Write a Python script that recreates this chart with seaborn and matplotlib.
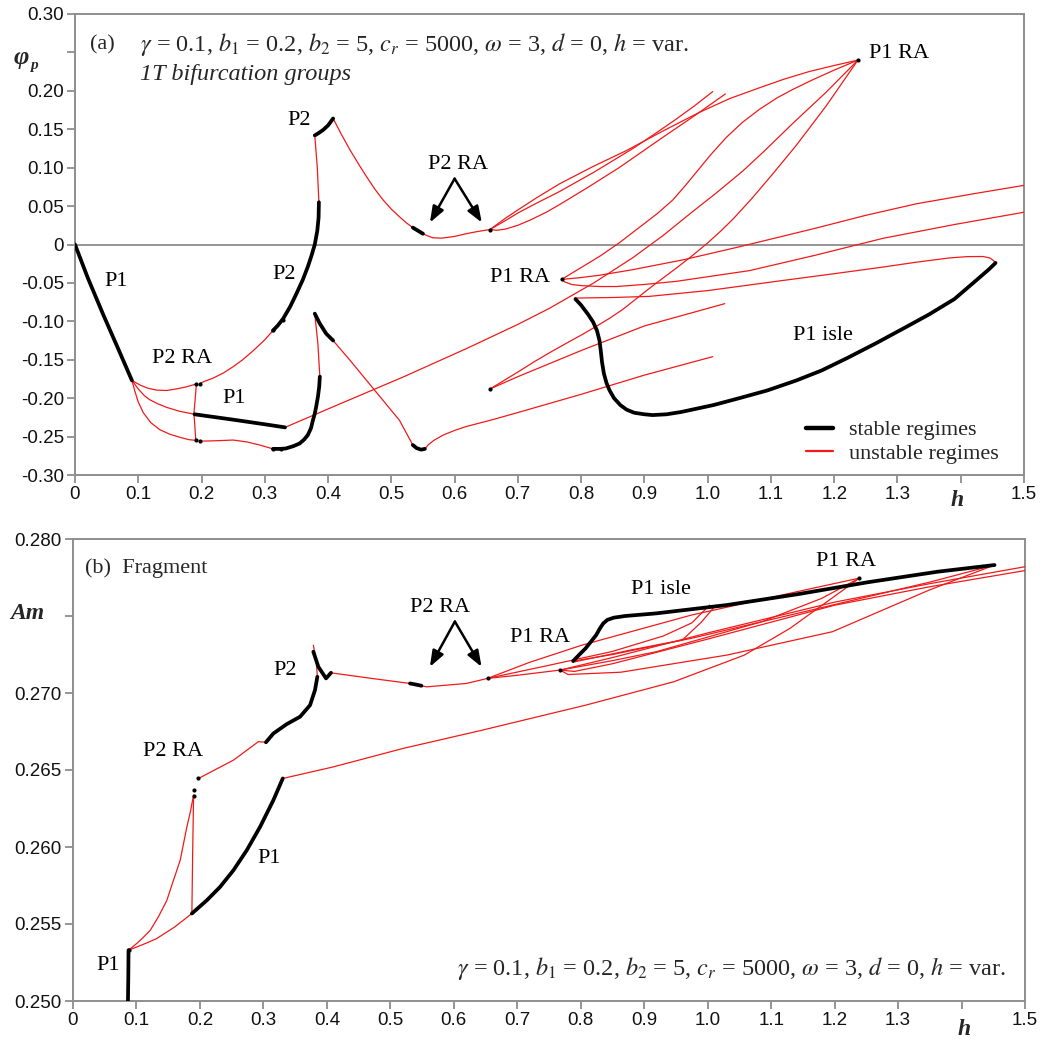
import numpy as np
import pandas as pd
import matplotlib
matplotlib.use("Agg")
import matplotlib.pyplot as plt
import seaborn as sns
from matplotlib.lines import Line2D

# ---------------- data ----------------
h_ticks = [0.0, 0.1, 0.2, 0.3, 0.4, 0.5, 0.6, 0.7, 0.8, 0.9, 1.0, 1.1, 1.2, 1.3, 1.4, 1.5]
h_tick_labels = ['0', '0.1', '0.2', '0.3', '0.4', '0.5', '0.6', '0.7', '0.8', '0.9',
                 '1.0', '1.1', '1.2', '1.3', '', '1.5']
a_y_ticks = [0.30, 0.25, 0.20, 0.15, 0.10, 0.05, 0.0, -0.05, -0.10, -0.15, -0.20, -0.25, -0.30]
a_y_labels = ['0.30', '', '0.20', '0.15', '0.10', '0.05', '0', '-0.05', '-0.10', '-0.15',
              '-0.20', '-0.25', '-0.30']
b_y_ticks = [0.280, 0.275, 0.270, 0.265, 0.260, 0.255, 0.250]
b_y_labels = ['0.280', '', '0.270', '0.265', '0.260', '0.255', '0.250']

# panel (a): (h, phi_p) pairs, stable branches
a_p1 = [(0.0, 0.0), (0.02, -0.043), (0.045, -0.092), (0.07, -0.139), (0.09, -0.177)]
a_p1_mid = [(0.189, -0.221), (0.25, -0.228), (0.30, -0.234), (0.332, -0.238)]
a_u = [(0.313, -0.266), (0.324, -0.266), (0.333, -0.2655), (0.345, -0.2625), (0.355, -0.259),
       (0.362, -0.254), (0.368, -0.248), (0.373, -0.239), (0.376, -0.229), (0.379, -0.220),
       (0.381, -0.212), (0.384, -0.198), (0.386, -0.185), (0.387, -0.172)]
a_p2_low = [(0.313, -0.112), (0.321, -0.105), (0.329, -0.0965), (0.34, -0.081), (0.35, -0.064),
            (0.36, -0.046), (0.368, -0.029), (0.374, -0.014), (0.379, 0.0), (0.383, 0.018),
            (0.385, 0.035), (0.3855, 0.055)]
a_p2_top = [(0.379, 0.142), (0.385, 0.145), (0.392, 0.149), (0.400, 0.155), (0.408, 0.164)]
a_p2ra = [(0.534, 0.022), (0.542, 0.018), (0.55, 0.014)]
a_hook = [(0.379, -0.09), (0.387, -0.103), (0.397, -0.116), (0.408, -0.125)]
a_min = [(0.534, -0.261), (0.54, -0.265), (0.547, -0.267), (0.553, -0.266)]
a_isle = [(0.791, -0.071), (0.80, -0.079), (0.811, -0.091), (0.819, -0.101), (0.825, -0.112),
          (0.829, -0.125), (0.831, -0.138), (0.833, -0.153), (0.836, -0.168), (0.840, -0.180),
          (0.845, -0.190), (0.852, -0.200), (0.862, -0.209), (0.872, -0.215), (0.884, -0.219),
          (0.90, -0.221), (0.913, -0.222), (0.935, -0.221), (0.958, -0.218), (1.009, -0.209),
          (1.05, -0.2), (1.094, -0.19), (1.14, -0.177), (1.18, -0.164), (1.22, -0.148),
          (1.265, -0.129), (1.31, -0.109), (1.35, -0.091), (1.39, -0.071), (1.424, -0.047),
          (1.445, -0.032), (1.455, -0.024)]

# panel (a): unstable branches
a_r_p2_desc = [(0.408, 0.164), (0.42, 0.145), (0.434, 0.124), (0.448, 0.105), (0.461, 0.088),
               (0.474, 0.072), (0.487, 0.058), (0.50, 0.046), (0.513, 0.036), (0.524, 0.028),
               (0.534, 0.022)]
a_r_p2ra = [(0.55, 0.014), (0.558, 0.011), (0.566, 0.0087), (0.58, 0.0083), (0.60, 0.0105),
            (0.618, 0.014), (0.637, 0.017), (0.656, 0.0195)]
a_r_p2_vert = [(0.3855, 0.055), (0.383, 0.10), (0.379, 0.142)]
a_r_p2_left = [(0.313, -0.112), (0.30, -0.124), (0.282, -0.138), (0.265, -0.15), (0.25, -0.159),
               (0.235, -0.167), (0.218, -0.174), (0.205, -0.178), (0.197, -0.181)]
a_r_ra_top = [(0.19, -0.182), (0.175, -0.1855), (0.16, -0.188), (0.145, -0.19), (0.129, -0.1895),
              (0.115, -0.187), (0.103, -0.183), (0.09, -0.177)]
a_r_mid = [(0.09, -0.177), (0.10, -0.188), (0.11, -0.197), (0.118, -0.202), (0.13, -0.207),
           (0.145, -0.212), (0.165, -0.217), (0.189, -0.221)]
a_r_low = [(0.09, -0.177), (0.095, -0.192), (0.10, -0.205), (0.108, -0.219), (0.12, -0.232),
           (0.134, -0.241), (0.15, -0.247), (0.166, -0.251), (0.18, -0.254), (0.192, -0.255)]
a_r_vert = [(0.192, -0.181), (0.188, -0.22), (0.191, -0.255)]
a_r_bottom = [(0.197, -0.256), (0.22, -0.2555), (0.25, -0.2545), (0.272, -0.257), (0.292, -0.261),
              (0.313, -0.266)]
a_r_hook_vert = [(0.387, -0.172), (0.384, -0.13), (0.379, -0.09)]
a_r_hook_desc = [(0.408, -0.125), (0.435, -0.151), (0.461, -0.177), (0.487, -0.203),
                 (0.513, -0.229), (0.534, -0.261)]
a_r_rise = [(0.553, -0.266), (0.558, -0.261), (0.567, -0.255), (0.582, -0.248), (0.60, -0.242),
            (0.618, -0.237), (0.66, -0.228), (0.703, -0.218), (0.80, -0.195), (0.90, -0.17),
            (1.008, -0.146)]
a_r_long = [(0.332, -0.238), (0.42, -0.207), (0.52, -0.172), (0.62, -0.135), (0.70, -0.104),
            (0.75, -0.083), (0.82, -0.05), (0.882, -0.017), (0.93, 0.012), (0.972, 0.04),
            (1.015, 0.068), (1.056, 0.096), (1.09, 0.122), (1.135, 0.158), (1.187, 0.198),
            (1.2375, 0.24)]
a_r_s1 = [(0.769, -0.0455), (0.80, -0.030), (0.83, -0.015), (0.86, 0.002), (0.89, 0.021),
          (0.92, 0.040), (0.945, 0.058), (0.965, 0.077), (0.985, 0.097), (1.005, 0.117),
          (1.029, 0.139), (1.055, 0.159), (1.082, 0.176), (1.11, 0.191), (1.135, 0.202),
          (1.165, 0.214), (1.2, 0.227), (1.2375, 0.240)]
a_r_s3 = [(0.656, -0.188), (0.68, -0.176), (0.70, -0.166), (0.727, -0.152), (0.754, -0.139),
          (0.78, -0.127), (0.80, -0.118), (0.825, -0.106), (0.845, -0.096), (0.865, -0.085),
          (0.885, -0.072), (0.905, -0.059), (0.924, -0.047), (0.95, -0.031), (0.972, -0.017),
          (1.0, 0.002), (1.02, 0.017), (1.04, 0.033), (1.07, 0.060), (1.103, 0.092),
          (1.14, 0.129), (1.187, 0.180), (1.2375, 0.24)]
a_r_f3 = [(0.656, 0.0195), (0.68, 0.034), (0.70, 0.045), (0.73, 0.061), (0.766, 0.079),
          (0.82, 0.102), (0.871, 0.122), (0.93, 0.148), (0.987, 0.172), (1.035, 0.19),
          (1.082, 0.204), (1.12, 0.215), (1.16, 0.225), (1.20, 0.233), (1.2375, 0.240)]
a_r_f1 = [(0.656, 0.0195), (0.68, 0.031), (0.70, 0.041), (0.73, 0.054), (0.766, 0.069),
          (0.82, 0.094), (0.882, 0.125), (0.92, 0.146), (0.95, 0.163), (0.98, 0.181),
          (1.008, 0.199)]
a_r_f2 = [(0.656, 0.0195), (0.666, 0.0185), (0.68, 0.020), (0.70, 0.025), (0.72, 0.032),
          (0.745, 0.042), (0.766, 0.052), (0.81, 0.074), (0.86, 0.1), (0.93, 0.14),
          (0.98, 0.168), (1.028, 0.196)]
a_r_r1 = [(0.769, -0.0455), (0.80, -0.043), (0.829, -0.040), (0.88, -0.033), (0.961, -0.020),
          (1.05, -0.003), (1.172, 0.0215), (1.25, 0.038), (1.33, 0.053), (1.42, 0.066),
          (1.5, 0.077)]
a_r_r2 = [(0.769, -0.0455), (0.775, -0.049), (0.785, -0.052), (0.80, -0.0535), (0.83, -0.0547),
          (0.856, -0.0547), (0.90, -0.052), (0.95, -0.048), (1.066, -0.034), (1.17, -0.014),
          (1.277, 0.008), (1.39, 0.026), (1.5, 0.042)]
a_r_isle = [(0.791, -0.0697), (0.85, -0.069), (0.908, -0.0675), (1.0, -0.06), (1.119, -0.0468),
            (1.2, -0.038), (1.277, -0.0294), (1.33, -0.023), (1.382, -0.0175), (1.41, -0.0158),
            (1.435, -0.0156), (1.446, -0.0175), (1.452, -0.021), (1.455, -0.024)]
a_r_fan = [(0.656, -0.188), (0.70, -0.172), (0.80, -0.138), (0.90, -0.106), (1.027, -0.077)]
a_dots = [(0.192, -0.181), (0.198, -0.181), (0.191, -0.255), (0.198, -0.256), (0.313, -0.266),
          (0.325, -0.266), (0.313, -0.111), (0.328, -0.098), (0.656, 0.0195), (0.656, -0.188),
          (0.769, -0.0455), (1.2375, 0.24)]

# panel (b): (h, Am) pairs, stable branches
b_p1_vert = [(0.0866, 0.250), (0.0872, 0.2518), (0.0875, 0.2533)]
b_p1 = [(0.1873, 0.25568), (0.2109, 0.25654), (0.2318, 0.25741), (0.2528, 0.25849),
        (0.2738, 0.25979), (0.2948, 0.26131), (0.3157, 0.26304), (0.3305, 0.26445)]
b_p2 = [(0.3040, 0.26680), (0.3157, 0.26737), (0.3368, 0.26798), (0.3578, 0.26846),
        (0.3735, 0.26921), (0.3813, 0.27019), (0.385, 0.27105)]
b_p2_hook = [(0.3787, 0.27268), (0.3866, 0.2717), (0.3987, 0.27095), (0.4065, 0.27131)]
b_p2ra = [(0.531, 0.27062), (0.54, 0.27055), (0.549, 0.27047)]
b_isle = [(0.788, 0.27207), (0.798, 0.2725), (0.8077, 0.2729), (0.816, 0.27333),
          (0.8243, 0.27376), (0.830, 0.27418), (0.8355, 0.27452), (0.842, 0.27475),
          (0.852, 0.27489), (0.87, 0.27500), (0.9188, 0.27517), (1.03, 0.27571),
          (1.141, 0.27641), (1.252, 0.27719), (1.363, 0.27788), (1.452, 0.27831)]

# panel (b): unstable branches
b_r1 = [(0.0875, 0.2533), (0.10, 0.2535), (0.115, 0.25375), (0.1317, 0.25405), (0.16, 0.2548),
        (0.1873, 0.25568)]
b_r2 = [(0.0875, 0.2533), (0.10, 0.25372), (0.11, 0.2541), (0.1217, 0.25459), (0.135, 0.2555),
        (0.1479, 0.25654), (0.158, 0.2578), (0.1689, 0.25914), (0.175, 0.2604), (0.1794, 0.2613),
        (0.185, 0.2623), (0.19, 0.26337)]
b_r3 = [(0.1873, 0.25568), (0.1885, 0.2595), (0.19, 0.26337)]
b_r4 = [(0.1977, 0.26445), (0.2528, 0.26564), (0.2921, 0.26684), (0.3040, 0.26680)]
b_r5 = [(0.385, 0.27105), (0.3835, 0.2720), (0.3787, 0.2731)]
b_r6 = [(0.4065, 0.27131), (0.47, 0.27095), (0.531, 0.27062)]
b_r7 = [(0.549, 0.27047), (0.557, 0.2704), (0.62, 0.27062), (0.6533, 0.27095)]
b_r8 = [(0.3305, 0.26445), (0.41, 0.2652), (0.52, 0.2664), (0.641, 0.26755), (0.8077, 0.26921),
        (0.9466, 0.27073), (1.0577, 0.27246), (1.1298, 0.2742), (1.2244, 0.27701), (1.239, 0.27746)]
b_r_f3 = [(0.6533, 0.27095), (0.72, 0.2720), (0.8022, 0.27311), (0.9743, 0.27506),
          (1.141, 0.27658), (1.239, 0.27746)]
b_r_f1 = [(0.6533, 0.27095), (0.75, 0.2718), (0.85, 0.2727), (0.93, 0.2737), (0.975, 0.27455),
          (1.003, 0.27571)]
b_r_f2 = [(0.6533, 0.27095), (0.70, 0.27115), (0.7677, 0.27149)]
b_r_s1 = [(0.7677, 0.27149), (0.85, 0.2721), (0.9188, 0.27268), (1.0855, 0.27463),
          (1.18, 0.27615), (1.239, 0.27746)]
b_r_v = [(0.791, 0.27203), (0.88, 0.2728), (0.96, 0.27344), (0.99, 0.2746), (1.013, 0.27571)]
b_r_r1 = [(0.7677, 0.27149), (0.85, 0.2723), (1.0, 0.2739), (1.2, 0.2759), (1.35, 0.2771),
          (1.5, 0.2782)]
b_r_r2 = [(0.7677, 0.27149), (0.79, 0.2714), (0.85, 0.2719), (1.0, 0.2735), (1.2, 0.2757),
          (1.35, 0.2769), (1.5, 0.27795)]
b_r_isle1 = [(0.788, 0.27207), (0.85, 0.2725), (0.9743, 0.27355), (1.1966, 0.27571),
             (1.35, 0.2772), (1.452, 0.27831)]
b_r_isle2 = [(0.7677, 0.27149), (0.78, 0.2712), (0.8632, 0.27135), (1.03, 0.27246),
             (1.1966, 0.27398), (1.35, 0.2767), (1.452, 0.27831)]
b_dots = [(0.0875, 0.2533), (0.1905, 0.2633), (0.191, 0.2637), (0.1977, 0.26445),
          (0.6533, 0.27095), (0.7677, 0.27149), (1.239, 0.27746)]

a_stable = [a_p1, a_p1_mid, a_u, a_p2_low, a_p2_top, a_p2ra, a_hook, a_min, a_isle]
a_unstable = [a_r_p2_desc, a_r_p2ra, a_r_p2_vert, a_r_p2_left, a_r_ra_top, a_r_mid, a_r_low,
              a_r_vert, a_r_bottom, a_r_hook_vert, a_r_hook_desc, a_r_rise, a_r_long, a_r_s1,
              a_r_s3, a_r_f3, a_r_f1, a_r_f2, a_r_r1, a_r_r2, a_r_isle, a_r_fan]
b_stable = [b_p1_vert, b_p1, b_p2, b_p2_hook, b_p2ra, b_isle]
b_unstable = [b_r1, b_r2, b_r3, b_r4, b_r5, b_r6, b_r7, b_r8, b_r_f3, b_r_f1, b_r_f2, b_r_s1,
              b_r_v, b_r_r1, b_r_r2, b_r_isle1, b_r_isle2]

# ---------------- style ----------------
sns.set_theme(style="white")
plt.rcParams['font.family'] = ['Liberation Sans', 'DejaVu Sans']
plt.rcParams['mathtext.fontset'] = 'stix'
RED = '#f01a1a'
GRAY = '#8e8e8e'
SERIF = ['Liberation Serif', 'DejaVu Serif']
PARAMS = r'$\gamma$ = 0.1, $b_1$ = 0.2, $b_2$ = 5, $c_r$ = 5000, $\omega$ = 3, $d$ = 0, $h$ = var.'


def draw(ax, pts, stable):
    df = pd.DataFrame(pts, columns=['h', 'v'])
    sns.lineplot(data=df, x='h', y='v', sort=False, estimator=None, ax=ax,
                 color='black' if stable else RED, lw=2.7 if stable else 0.9,
                 zorder=4 if stable else 3)


def dots(ax, pts):
    df = pd.DataFrame(pts, columns=['h', 'v'])
    sns.scatterplot(data=df, x='h', y='v', ax=ax, color='black', s=9, linewidth=0, zorder=5)


def style_axes(ax, yticks, ylabels):
    ax.set_xlim(0, 1.5)
    ax.set_xticks(h_ticks)
    ax.set_xticklabels(h_tick_labels)
    ax.set_yticks(yticks)
    ax.set_yticklabels(ylabels)
    ax.set_xlabel('')
    ax.set_ylabel('')
    for sp in ax.spines.values():
        sp.set_color(GRAY)
        sp.set_linewidth(1.4)
    ax.tick_params(bottom=True, left=True, direction='out', length=6, width=1.3,
                   color=GRAY, labelsize=13.5, labelcolor='#111111', pad=2)


fig = plt.figure(figsize=(10.43, 10.42), dpi=100)
ax1 = fig.add_axes([75 / 1043, 1 - 475 / 1042, 949 / 1043, 461 / 1042])
ax2 = fig.add_axes([73 / 1043, 1 - 1001 / 1042, 952 / 1043, 462 / 1042])

# ---------------- panel (a) ----------------
ax1.axhline(0, color=GRAY, lw=1.3, zorder=1)
for c in a_unstable:
    draw(ax1, c, False)
for c in a_stable:
    draw(ax1, c, True)
dots(ax1, a_dots)
ax1.set_ylim(-0.30, 0.30)
style_axes(ax1, a_y_ticks, a_y_labels)

tx = dict(family=SERIF, fontsize=16, color='black', ha='center', va='center')
ax1.text(0.024, 0.26, '(a)', family=SERIF, fontsize=16, ha='left', va='center')
ax1.text(0.103, 0.26, PARAMS, family=SERIF, fontsize=17.5, ha='left', va='center')
ax1.text(0.103, 0.221, '1T bifurcation groups', family=SERIF, fontsize=17.5, style='italic',
         ha='left', va='center')
ax1.text(0.354, 0.162, 'P2', **tx)
ax1.text(0.605, 0.104, 'P2 RA', **tx)
ax1.text(1.303, 0.249, 'P1 RA', **tx)
ax1.text(0.065, -0.048, 'P1', **tx)
ax1.text(0.330, -0.039, 'P2', **tx)
ax1.text(0.169, -0.149, 'P2 RA', **tx)
ax1.text(0.251, -0.201, 'P1', **tx)
ax1.text(0.703, -0.0435, 'P1 RA', **tx)
ax1.text(1.182, -0.119, 'P1 isle', **tx)
arrow = dict(arrowstyle='-|>,head_length=0.8,head_width=0.3', lw=1.8, color='black',
             shrinkA=0, shrinkB=0)
ax1.annotate('', xy=(0.561, 0.0286), xytext=(0.600, 0.0857), arrowprops=arrow)
ax1.annotate('', xy=(0.643, 0.0286), xytext=(0.600, 0.0857), arrowprops=arrow)

handles = [Line2D([], [], color='black', lw=3.2), Line2D([], [], color=RED, lw=1.6)]
ax1.legend(handles, ['stable regimes', 'unstable regimes'], loc='lower right',
           bbox_to_anchor=(0.983, 0.004), frameon=False, handlelength=1.2, handletextpad=0.75,
           labelspacing=0.15, borderaxespad=0, prop=dict(family=SERIF, size=16))

ax1.text(1.395, -0.055, 'h', transform=ax1.get_xaxis_transform(), family=SERIF, fontsize=17,
         weight='bold', style='italic', ha='center', va='center')
ax1.text(-0.057, 0.905, 'φ', transform=ax1.transAxes, family=SERIF, fontsize=19,
         weight='bold', style='italic', ha='center', va='center')
ax1.text(-0.043, 0.888, 'p', transform=ax1.transAxes, family=SERIF, fontsize=11,
         weight='bold', style='italic', ha='center', va='center')

# ---------------- panel (b) ----------------
for c in b_unstable:
    draw(ax2, c, False)
for c in b_stable:
    draw(ax2, c, True)
dots(ax2, b_dots)
ax2.set_ylim(0.250, 0.280)
style_axes(ax2, b_y_ticks, b_y_labels)

ax2.text(0.019, 0.27812, '(b)  Fragment', family=SERIF, fontsize=16, ha='left', va='center')
ax2.text(0.578, 0.27557, 'P2 RA', **tx)
ax2.text(0.3342, 0.27146, 'P2', **tx)
ax2.text(0.7354, 0.2736, 'P1 RA', **tx)
ax2.text(0.9271, 0.27675, 'P1 isle', **tx)
ax2.text(1.2186, 0.27857, 'P1 RA', **tx)
ax2.text(0.157, 0.26619, 'P2 RA', **tx)
ax2.text(0.3097, 0.25924, 'P1', **tx)
ax2.text(0.0548, 0.25232, 'P1', **tx)
ax2.annotate('', xy=(0.5623, 0.2717), xytext=(0.6017, 0.27464), arrowprops=arrow)
ax2.annotate('', xy=(0.6437, 0.2717), xytext=(0.6017, 0.27464), arrowprops=arrow)
ax2.text(1.4704, 0.25212, PARAMS, family=SERIF, fontsize=17.5, ha='right', va='center')
ax2.text(1.404, -0.061, 'h', transform=ax2.get_xaxis_transform(), family=SERIF, fontsize=17,
         weight='bold', style='italic', ha='center', va='center')
ax2.text(-0.0485, 0.838, 'Am', transform=ax2.transAxes, family=SERIF, fontsize=17,
         weight='bold', style='italic', ha='center', va='center')

fig.savefig('out.png', dpi=100)
